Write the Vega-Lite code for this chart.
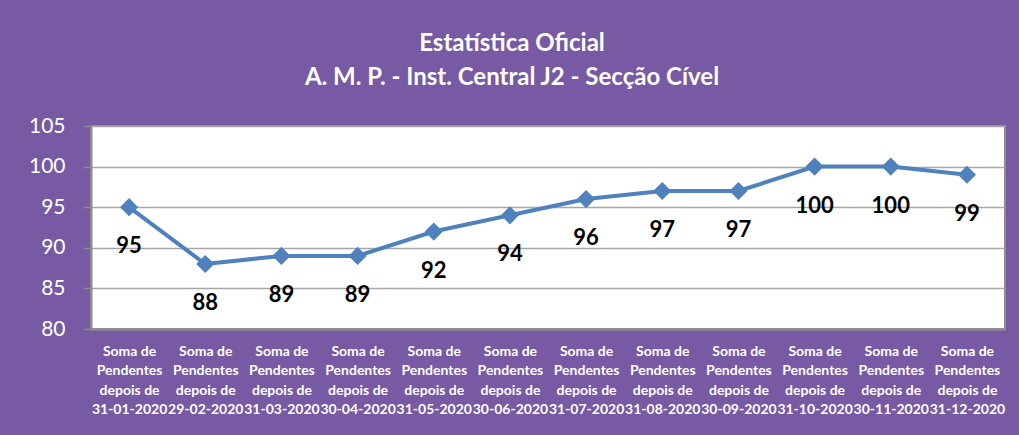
{
  "$schema": "https://vega.github.io/schema/vega-lite/v6.json",
  "autosize": "none",
  "width": 914,
  "height": 203,
  "padding": {"left": 91, "top": 126, "right": 14, "bottom": 106},
  "background": "#7759a4",
  "title": {
    "text": ["Estatística Oficial", "A. M. P. - Inst. Central J2 - Secção Cível"],
    "font": "Lato",
    "fontSize": 24,
    "fontWeight": "bold",
    "color": "white",
    "anchor": "middle",
    "lineHeight": 34,
    "offset": 25,
    "dx": -36,
    "frame": "group"
  },
  "data": {
    "values": [
      {"cat": "Soma de|Pendentes|depois de|31-01-2020", "v": 95},
      {"cat": "Soma de|Pendentes|depois de|29-02-2020", "v": 88},
      {"cat": "Soma de|Pendentes|depois de|31-03-2020", "v": 89},
      {"cat": "Soma de|Pendentes|depois de|30-04-2020", "v": 89},
      {"cat": "Soma de|Pendentes|depois de|31-05-2020", "v": 92},
      {"cat": "Soma de|Pendentes|depois de|30-06-2020", "v": 94},
      {"cat": "Soma de|Pendentes|depois de|31-07-2020", "v": 96},
      {"cat": "Soma de|Pendentes|depois de|31-08-2020", "v": 97},
      {"cat": "Soma de|Pendentes|depois de|30-09-2020", "v": 97},
      {"cat": "Soma de|Pendentes|depois de|31-10-2020", "v": 100},
      {"cat": "Soma de|Pendentes|depois de|30-11-2020", "v": 100},
      {"cat": "Soma de|Pendentes|depois de|31-12-2020", "v": 99}
    ]
  },
  "encoding": {
    "x": {
      "field": "cat",
      "type": "nominal",
      "sort": null,
      "title": null,
      "scale": {"paddingInner": 0, "paddingOuter": 0},
      "axis": {
        "labelAngle": 0,
        "labelExpr": "split(datum.label, '|')",
        "labelFont": "Lato",
        "labelFontSize": 14,
        "labelFontWeight": "bold",
        "labelColor": "white",
        "labelLineHeight": 19.5,
        "labelPadding": 15,
        "ticks": false,
        "domainColor": "#8c8c8c",
        "domainWidth": 2,
        "labelOverlap": false
      }
    },
    "y": {
      "field": "v",
      "type": "quantitative",
      "title": null,
      "scale": {"domain": [80, 105], "nice": false, "zero": false},
      "axis": {
        "values": [80, 85, 90, 95, 100, 105],
        "labelFont": "Lato",
        "labelFontSize": 21,
        "labelColor": "white",
        "labelPadding": 18,
        "tickSize": 8,
        "tickColor": "#8c8c8c",
        "tickWidth": 1.5,
        "domainColor": "#8c8c8c",
        "domainWidth": 2,
        "grid": true,
        "gridColor": "#a6a6a6",
        "gridWidth": 1.5
      }
    }
  },
  "layer": [
    {"mark": {"type": "line", "color": "#4f81bd", "strokeWidth": 4}},
    {"mark": {"type": "point", "shape": "diamond", "filled": true, "color": "#4f81bd", "size": 330, "opacity": 1}},
    {"mark": {"type": "text", "font": "Lato", "fontSize": 22, "fontWeight": "bold", "color": "black", "dy": 39}, "encoding": {"text": {"field": "v"}}}
  ],
  "config": {
    "view": {"fill": "white", "stroke": "#8c8c8c", "strokeWidth": 2}
  }
}
